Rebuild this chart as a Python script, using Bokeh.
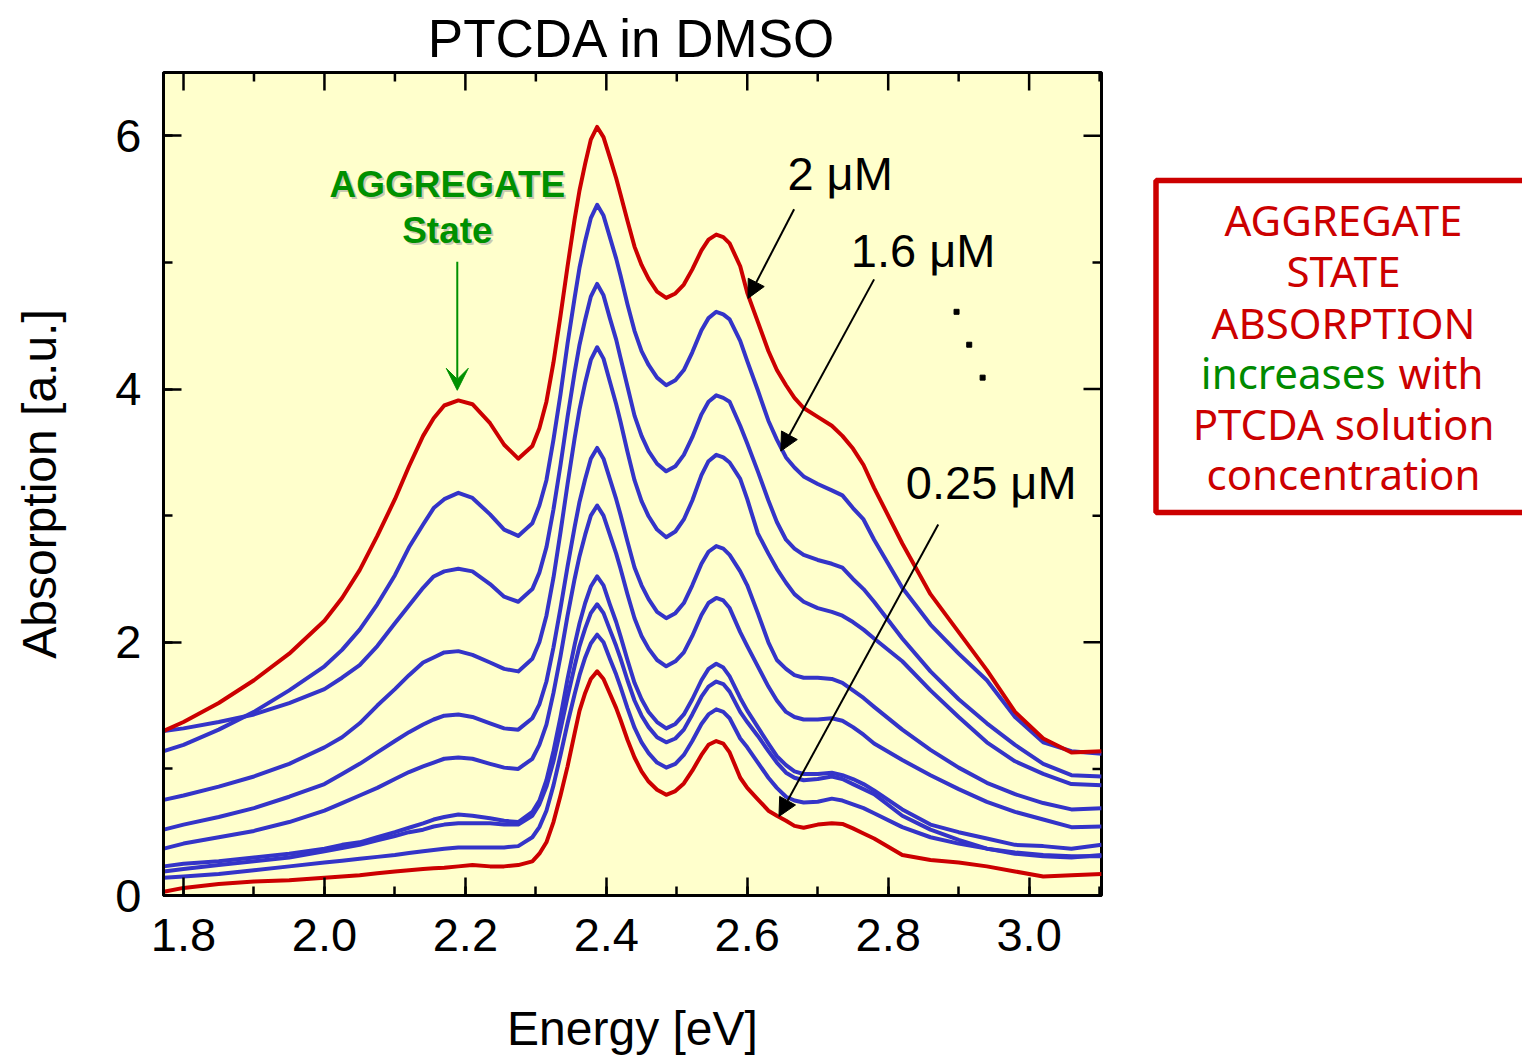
from bokeh.plotting import figure
from bokeh.models import (Range1d, SingleIntervalTicker, Arrow, VeeHead, NormalHead,
                          Label, NumeralTickFormatter)
from bokeh.layouts import row
from bokeh.embed import file_html
from bokeh.resources import INLINE

# ---------------- data ----------------
energy = [1.772, 1.80, 1.85, 1.90, 1.95, 2.00, 2.025, 2.05, 2.075, 2.10,
          2.12, 2.14, 2.155, 2.17, 2.19, 2.21, 2.235, 2.255, 2.275, 2.295,
          2.305, 2.315, 2.325, 2.335, 2.345, 2.355, 2.362, 2.37, 2.378, 2.387,
          2.396, 2.405, 2.414, 2.42, 2.43, 2.44, 2.45, 2.46, 2.472, 2.485,
          2.498, 2.51, 2.522, 2.535, 2.545, 2.556, 2.566, 2.575, 2.59, 2.60,
          2.615, 2.63, 2.642, 2.655, 2.667, 2.68, 2.70, 2.72, 2.735, 2.75,
          2.765, 2.78, 2.82, 2.86, 2.90, 2.94, 2.98, 3.02, 3.06, 3.103]

abs_2uM = [1.30, 1.37, 1.52, 1.70, 1.91, 2.17, 2.35, 2.57, 2.84, 3.13,
           3.39, 3.63, 3.77, 3.87, 3.91, 3.88, 3.73, 3.56, 3.45, 3.55,
           3.69, 3.90, 4.21, 4.58, 4.97, 5.34, 5.57, 5.78, 5.97, 6.07,
           5.99, 5.83, 5.665, 5.54, 5.33, 5.125, 4.98, 4.87, 4.77, 4.72,
           4.755, 4.825, 4.945, 5.095, 5.18, 5.22, 5.20, 5.15, 4.97, 4.76,
           4.53, 4.30, 4.15, 4.03, 3.93, 3.85, 3.78, 3.71, 3.63, 3.53,
           3.40, 3.22, 2.78, 2.38, 2.08, 1.78, 1.45, 1.24, 1.13, 1.14]

abs_1p6uM = [1.14, 1.19, 1.31, 1.45, 1.62, 1.81, 1.94, 2.10, 2.30, 2.53,
             2.75, 2.93, 3.06, 3.13, 3.18, 3.14, 3.01, 2.89, 2.84, 2.94,
             3.08, 3.28, 3.60, 3.96, 4.36, 4.72, 4.96, 5.17, 5.35, 5.455,
             5.37, 5.20, 5.03, 4.90, 4.67, 4.46, 4.30, 4.19, 4.09, 4.03,
             4.07, 4.15, 4.29, 4.465, 4.56, 4.61, 4.59, 4.55, 4.38, 4.22,
             3.99, 3.75, 3.60, 3.46, 3.38, 3.31, 3.25, 3.20, 3.16, 3.06,
             2.97, 2.81, 2.43, 2.14, 1.91, 1.70, 1.41, 1.21, 1.14, 1.12]

abs_c3 = [1.30, 1.32, 1.37, 1.43, 1.52, 1.63, 1.72, 1.82, 1.97, 2.15,
          2.29, 2.43, 2.52, 2.56, 2.58, 2.56, 2.46, 2.36, 2.32, 2.42,
          2.55, 2.75, 3.05, 3.40, 3.78, 4.13, 4.35, 4.55, 4.73, 4.83,
          4.74, 4.56, 4.39, 4.25, 4.02, 3.79, 3.63, 3.51, 3.41, 3.35,
          3.39, 3.48, 3.62, 3.80, 3.90, 3.95, 3.93, 3.90, 3.71, 3.57,
          3.35, 3.12, 2.95, 2.81, 2.74, 2.69, 2.65, 2.62, 2.59, 2.50,
          2.42, 2.32, 2.03, 1.77, 1.55, 1.36, 1.19, 1.04, 0.95, 0.94]

abs_c4 = [0.755, 0.79, 0.86, 0.94, 1.04, 1.17, 1.25, 1.36, 1.50, 1.63,
          1.74, 1.84, 1.88, 1.92, 1.93, 1.90, 1.84, 1.79, 1.77, 1.87,
          2.00, 2.21, 2.51, 2.87, 3.25, 3.61, 3.84, 4.05, 4.23, 4.33,
          4.24, 4.06, 3.88, 3.745, 3.505, 3.28, 3.115, 2.995, 2.89, 2.83,
          2.875, 2.97, 3.12, 3.32, 3.43, 3.48, 3.46, 3.42, 3.29, 3.13,
          2.86, 2.70, 2.58, 2.47, 2.38, 2.32, 2.27, 2.24, 2.21, 2.16,
          2.10, 2.03, 1.85, 1.62, 1.41, 1.21, 1.06, 0.96, 0.88, 0.87]

abs_c5 = [0.52, 0.56, 0.62, 0.69, 0.78, 0.88, 0.96, 1.04, 1.13, 1.22,
          1.29, 1.35, 1.39, 1.42, 1.43, 1.41, 1.36, 1.32, 1.31, 1.40,
          1.51, 1.69, 1.96, 2.27, 2.60, 2.91, 3.11, 3.29, 3.45, 3.535,
          3.45, 3.29, 3.13, 3.01, 2.795, 2.59, 2.45, 2.34, 2.24, 2.19,
          2.23, 2.31, 2.45, 2.62, 2.715, 2.76, 2.74, 2.69, 2.56, 2.45,
          2.23, 2.00, 1.86, 1.79, 1.74, 1.72, 1.72, 1.71, 1.68, 1.62,
          1.56, 1.49, 1.31, 1.15, 1.01, 0.89, 0.80, 0.73, 0.68, 0.69]

abs_c6 = [0.37, 0.41, 0.46, 0.51, 0.58, 0.67, 0.73, 0.79, 0.85, 0.92,
          0.975, 1.02, 1.05, 1.08, 1.09, 1.08, 1.04, 1.01, 1.00, 1.08,
          1.19, 1.35, 1.60, 1.89, 2.21, 2.50, 2.68, 2.85, 3.00, 3.08,
          3.00, 2.85, 2.70, 2.585, 2.38, 2.19, 2.05, 1.95, 1.86, 1.81,
          1.85, 1.92, 2.05, 2.215, 2.31, 2.35, 2.33, 2.27, 2.08, 1.97,
          1.81, 1.65, 1.54, 1.45, 1.41, 1.39, 1.39, 1.40, 1.38, 1.33,
          1.27, 1.20, 1.07, 0.95, 0.84, 0.74, 0.66, 0.60, 0.54, 0.545]

abs_c7 = [0.23, 0.25, 0.27, 0.30, 0.33, 0.37, 0.40, 0.42, 0.46, 0.50,
          0.535, 0.57, 0.60, 0.62, 0.64, 0.63, 0.61, 0.59, 0.58, 0.66,
          0.75, 0.91, 1.14, 1.41, 1.71, 1.98, 2.15, 2.31, 2.44, 2.52,
          2.45, 2.30, 2.16, 2.05, 1.86, 1.68, 1.55, 1.45, 1.37, 1.32,
          1.355, 1.43, 1.55, 1.70, 1.79, 1.83, 1.80, 1.73, 1.56, 1.46,
          1.33, 1.20, 1.10, 1.03, 0.98, 0.96, 0.96, 0.97, 0.95, 0.92,
          0.88, 0.83, 0.68, 0.56, 0.50, 0.45, 0.40, 0.39, 0.37, 0.40]

abs_c8 = [0.19, 0.21, 0.24, 0.27, 0.30, 0.35, 0.375, 0.40, 0.435, 0.47,
          0.50, 0.52, 0.545, 0.56, 0.57, 0.57, 0.57, 0.56, 0.56, 0.63,
          0.72, 0.86, 1.06, 1.31, 1.57, 1.81, 1.97, 2.11, 2.23, 2.30,
          2.23, 2.10, 1.97, 1.875, 1.70, 1.54, 1.42, 1.33, 1.25, 1.21,
          1.24, 1.31, 1.43, 1.57, 1.65, 1.69, 1.67, 1.61, 1.45, 1.37,
          1.26, 1.14, 1.05, 0.97, 0.93, 0.91, 0.92, 0.94, 0.92, 0.88,
          0.84, 0.80, 0.63, 0.52, 0.44, 0.37, 0.33, 0.31, 0.30, 0.32]

abs_c9 = [0.14, 0.15, 0.17, 0.20, 0.23, 0.26, 0.275, 0.29, 0.305, 0.32,
          0.335, 0.35, 0.36, 0.37, 0.38, 0.38, 0.38, 0.38, 0.39, 0.46,
          0.54, 0.67, 0.87, 1.11, 1.36, 1.59, 1.74, 1.88, 1.99, 2.06,
          2.00, 1.87, 1.745, 1.65, 1.48, 1.325, 1.21, 1.125, 1.05, 1.01,
          1.04, 1.11, 1.22, 1.355, 1.43, 1.47, 1.45, 1.40, 1.24, 1.17,
          1.05, 0.93, 0.85, 0.78, 0.75, 0.735, 0.74, 0.765, 0.75, 0.72,
          0.69, 0.65, 0.54, 0.46, 0.41, 0.37, 0.34, 0.32, 0.31, 0.31]

abs_0p25uM = [0.03, 0.06, 0.09, 0.11, 0.12, 0.14, 0.15, 0.16, 0.175, 0.19,
              0.20, 0.21, 0.215, 0.22, 0.23, 0.24, 0.23, 0.23, 0.24, 0.27,
              0.33, 0.42, 0.58, 0.79, 1.02, 1.28, 1.46, 1.60, 1.71, 1.77,
              1.71, 1.595, 1.48, 1.39, 1.23, 1.09, 0.98, 0.90, 0.835, 0.795,
              0.825, 0.885, 0.986, 1.11, 1.19, 1.22, 1.20, 1.13, 0.93, 0.85,
              0.76, 0.67, 0.63, 0.59, 0.55, 0.535, 0.56, 0.57, 0.565, 0.53,
              0.49, 0.45, 0.32, 0.28, 0.26, 0.23, 0.19, 0.15, 0.16, 0.17]

blue_series = [abs_1p6uM, abs_c3, abs_c4, abs_c5, abs_c6, abs_c7, abs_c8, abs_c9]

x_major_ticks = [1.8, 2.0, 2.2, 2.4, 2.6, 2.8, 3.0]
x_minor_ticks = [1.9, 2.1, 2.3, 2.5, 2.7, 2.9, 3.1]
y_major_ticks = [0, 2, 4, 6]
y_minor_ticks = [1, 3, 5]

box_lines = ["AGGREGATE", "STATE", "ABSORPTION", None, "PTCDA solution", "concentration"]

RED = "#cc0000"
BLUE = "#3434c8"
GREEN = "#009000"
FONT = "Liberation Sans"

X0, X1 = 1.7716, 3.1027
Y0, Y1 = 0.0, 6.5
PX_X = 938 / (X1 - X0)   # pixels per eV
PX_Y = 823 / (Y1 - Y0)   # pixels per unit

# ---------------- main figure ----------------
p = figure(width=1140, height=1059,
           x_range=Range1d(X0, X1), y_range=Range1d(Y0, Y1),
           output_backend="svg", toolbar_location=None,
           min_border_left=163, min_border_right=39,
           min_border_top=72, min_border_bottom=164,
           title="PTCDA in DMSO")
p.title.text_font = FONT
p.title.text_font_size = "53px"
p.title.text_font_style = "normal"
p.title.text_color = "black"
p.title.align = "center"
p.title.standoff = 9
p.background_fill_color = "#ffffcc"
p.border_fill_color = "white"
p.grid.visible = False
p.outline_line_color = "black"
p.outline_line_width = 3


def style(ax):
    ax.axis_line_width = 3
    ax.axis_line_color = "black"
    ax.major_tick_in = 18
    ax.major_tick_out = 0
    ax.minor_tick_in = 9
    ax.minor_tick_out = 0
    ax.major_tick_line_width = 2.5
    ax.minor_tick_line_width = 2.5
    ax.major_tick_line_color = "black"
    ax.minor_tick_line_color = "black"


xa = p.xaxis[0]
xa.ticker = SingleIntervalTicker(interval=0.2, num_minor_ticks=2)
xa.formatter = NumeralTickFormatter(format="0.0")
style(xa)
xa.major_label_text_font = FONT
xa.major_label_text_font_size = "47px"
xa.major_label_text_color = "black"
xa.major_label_standoff = 23
xa.axis_label = "Energy [eV]"
xa.axis_label_text_font = FONT
xa.axis_label_text_font_size = "48px"
xa.axis_label_text_font_style = "normal"
xa.axis_label_text_color = "black"
xa.axis_label_standoff = 48

ya = p.yaxis[0]
ya.ticker = SingleIntervalTicker(interval=2, num_minor_ticks=2)
style(ya)
ya.major_label_text_font = FONT
ya.major_label_text_font_size = "47px"
ya.major_label_text_color = "black"
ya.major_label_standoff = 22
ya.axis_label = "Absorption [a.u.]"
ya.axis_label_text_font = FONT
ya.axis_label_text_font_size = "48px"
ya.axis_label_text_font_style = "normal"
ya.axis_label_text_color = "black"
ya.axis_label_standoff = 46

# inward ticks on the top and right edges of the frame
p.segment(x0=x_major_ticks, y0=[Y1] * len(x_major_ticks), x1=x_major_ticks,
          y1=[Y1 - 18 / PX_Y] * len(x_major_ticks), line_color="black", line_width=2.5)
p.segment(x0=x_minor_ticks, y0=[Y1] * len(x_minor_ticks), x1=x_minor_ticks,
          y1=[Y1 - 9 / PX_Y] * len(x_minor_ticks), line_color="black", line_width=2.5)
p.segment(x0=[X1] * len(y_major_ticks), y0=y_major_ticks,
          x1=[X1 - 18 / PX_X] * len(y_major_ticks), y1=y_major_ticks,
          line_color="black", line_width=2.5)
p.segment(x0=[X1] * len(y_minor_ticks), y0=y_minor_ticks,
          x1=[X1 - 9 / PX_X] * len(y_minor_ticks), y1=y_minor_ticks,
          line_color="black", line_width=2.5)

# curves
for ys in blue_series:
    p.line(energy, ys, line_color=BLUE, line_width=4, line_join="round")
p.line(energy, abs_0p25uM, line_color=RED, line_width=4, line_join="round")
p.line(energy, abs_2uM, line_color=RED, line_width=4, line_join="round")

# annotations: green aggregate label
for txt, yc in (("AGGREGATE", 5.615), ("State", 5.25)):
    p.add_layout(Label(x=2.1745, y=yc, text=txt, text_align="center",
                       text_baseline="alphabetic", text_font=FONT,
                       text_font_size="37px", text_font_style="bold",
                       text_color="#9a9a9a", text_alpha=0.55,
                       x_offset=2, y_offset=-2))
    p.add_layout(Label(x=2.1745, y=yc, text=txt, text_align="center",
                       text_baseline="alphabetic", text_font=FONT,
                       text_font_size="37px", text_font_style="bold",
                       text_color=GREEN))
p.add_layout(Arrow(end=VeeHead(size=22, fill_color=GREEN, line_color=GREEN),
                   x_start=2.1885, y_start=5.005, x_end=2.1885, y_end=3.99,
                   line_color=GREEN, line_width=2))

# concentration labels and arrows
for txt, xl, yc in (("2 \u03bcM", 2.657, 5.70), ("1.6 \u03bcM", 2.747, 5.095),
                    ("0.25 \u03bcM", 2.825, 3.265)):
    p.add_layout(Label(x=xl, y=yc, text=txt, text_align="left",
                       text_baseline="alphabetic", text_font=FONT,
                       text_font_size="47px", text_color="black"))

for xs, ys_, xe, ye in ((2.6665, 5.42, 2.601, 4.716),
                        (2.780, 4.866, 2.6476, 3.51),
                        (2.871, 2.93, 2.645, 0.624)):
    p.add_layout(Arrow(end=NormalHead(size=18, fill_color="black", line_color="black"),
                       x_start=xs, y_start=ys_, x_end=xe, y_end=ye,
                       line_color="black", line_width=2))

p.scatter(x=[2.897, 2.915, 2.934], y=[4.61, 4.35, 4.09], marker="square",
          size=5, color="black")

# ---------------- right-hand text box (coordinates = page pixels) ----------------
p2 = figure(width=382, height=1059, x_range=Range1d(0, 382), y_range=Range1d(895, 72),
            output_backend="svg", toolbar_location=None, x_axis_type=None,
            y_axis_type=None, min_border=0)
p2.grid.visible = False
p2.outline_line_color = None
p2.background_fill_color = "white"
p2.border_fill_color = "white"
p2.quad(left=[15.5], right=[420], top=[180], bottom=[512], fill_color=None,
        line_color=RED, line_width=5.5)

BOX_FONT = "Noto Sans"
centers = [218.5, 269.5, 321.5, 371.5, 422.5, 472.5]
for txt, yc in zip(box_lines, centers):
    if txt is None:
        continue
    p2.add_layout(Label(x=203, y=yc, text=txt, text_align="center",
                        text_baseline="alphabetic", text_font=BOX_FONT,
                        text_font_size="42px", text_color=RED))
p2.add_layout(Label(x=245, y=centers[3], text="increases", text_align="right",
                    text_baseline="alphabetic", text_font=BOX_FONT,
                    text_font_size="42px", text_color="#008a00"))
p2.add_layout(Label(x=258, y=centers[3], text="with", text_align="left",
                    text_baseline="alphabetic", text_font=BOX_FONT,
                    text_font_size="42px", text_color=RED))

layout = row(p, p2)
open("out.html", "w").write(file_html(layout, INLINE))
